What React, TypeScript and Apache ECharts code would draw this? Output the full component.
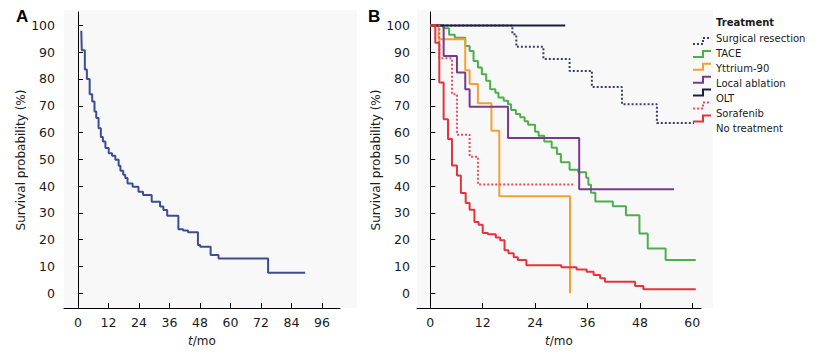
import React, { useEffect, useRef } from 'react';
import * as echarts from 'echarts';

const FONT = 'DejaVu Sans';
const TEXT = '#1a1a1a';

// tick labels
const yTicks = [0, 10, 20, 30, 40, 50, 60, 70, 80, 90, 100];
const xTicksA = [0, 12, 24, 36, 48, 60, 72, 84, 96];
const xTicksB = [0, 12, 24, 36, 48, 60];

// Panel A: overall survival [month, survival %]
const overall = [
  [1.3, 98], [1.5, 90.7], [2.7, 83.5], [3.5, 80], [4.6, 74.3], [5.6, 71.6], [6.5, 67.9],
  [7.2, 65.4], [8.1, 61.6], [9.0, 58.3], [9.8, 56.7], [10.8, 54.2], [12.1, 52.3],
  [13.4, 51.3], [14.7, 49.8], [16.0, 47.6], [16.7, 45.7], [17.8, 44.2], [18.6, 43],
  [19.5, 41], [21.5, 39.8], [23.8, 37.9], [25.6, 36.7], [29.0, 34.2], [32.3, 32.4],
  [33.6, 31.1], [35.1, 28.9], [39.5, 23.9], [41.4, 23.4], [43.3, 22.8], [47.2, 18],
  [48.1, 17.4], [52.2, 14.3], [55.3, 13], [74.8, 7.7], [89.4, 7.7],
];

// Panel B: survival by treatment [month, survival %]
const surgicalResection = [
  [0, 100], [18.8, 96.7], [19.7, 92], [25.9, 87.5], [31.9, 83], [37.0, 77], [43.9, 70.6],
  [51.9, 63.6], [60.4, 63.6],
];
const tace = [
  [0, 100], [3.0, 98.9], [4.3, 96.5], [5.6, 95.4], [8.0, 92.3], [9.0, 90.4], [9.9, 86.7],
  [10.9, 84.3], [11.8, 81.8], [12.8, 79.3], [13.7, 76.2], [14.9, 74.9], [15.6, 73.1],
  [16.8, 71.9], [17.8, 70.6], [18.5, 68.4], [19.6, 66.9], [20.6, 65.7], [21.6, 64.2],
  [22.4, 62.9], [24.0, 60.3], [24.8, 58.8], [26.1, 56.7], [27.8, 54.3], [29.0, 52],
  [29.9, 48.9], [31.9, 46.1], [33.9, 45.2], [35.7, 43.1], [36.2, 40.5], [36.8, 37.5],
  [37.8, 34.3], [41.8, 32.5], [44.8, 29.1], [47.9, 22.3], [49.8, 16.7], [53.9, 12.4],
  [60.8, 12.4],
];
const yttrium90 = [
  [0, 100], [1.9, 94.8], [8.0, 83.3], [9.0, 78.1], [10.9, 70.9], [14.0, 60.7], [15.8, 36.2],
  [32.0, 0],
];
const localAblation = [
  [0, 100], [3.05, 88.6], [6.1, 82.4], [8.0, 76.2], [9.0, 69.6], [17.8, 58], [34.1, 38.8],
  [55.8, 38.8],
];
const olt = [[0, 100], [30.9, 100]];
const sorafenib = [
  [0, 100], [2.06, 87.7], [4.96, 74.3], [6.1, 59.2], [9.0, 51], [10.9, 40.6], [32.7, 40.6],
];
const noTreatment = [
  [0, 100], [1.14, 93.5], [2.06, 78.7], [3.05, 65], [4.05, 57.6], [4.96, 47.7], [6.1, 44],
  [7.0, 37.4], [8.1, 33.7], [9.0, 31.2], [10.1, 26.6], [11.05, 25.6], [12.0, 22.5],
  [13.2, 22], [15.0, 20.8], [16.0, 19.8], [17.0, 16.1], [17.9, 14.9], [19.1, 13.4],
  [20.05, 12.4], [22.0, 10.5], [30.0, 9.7], [33.5, 8.9], [35.8, 8.0], [37.4, 6.8],
  [38.9, 5.6], [40.0, 4.3], [46.9, 2.7], [48.8, 1.5], [60.8, 1.5],
];

const treatments = ['Surgical resection', 'TACE', 'Yttrium-90', 'Local ablation', 'OLT', 'Sorafenib', 'No treatment'];
const treatmentData = [surgicalResection, tace, yttrium90, localAblation, olt, sorafenib, noTreatment];
const treatmentColors = ['#3b3e66', '#4caf4c', '#f3a032', '#7a3a8c', '#1d1e3a', '#e85058', '#e3343d'];
const treatmentDotted = [true, false, false, false, false, true, false];

const yAxisCfg = (gridIndex: number, nameGap: number, margin: number) => ({
  type: 'value',
  gridIndex,
  min: -5.5,
  max: 105,
  name: 'Survival probability (%)',
  nameLocation: 'middle',
  nameGap,
  nameTextStyle: { fontFamily: FONT, fontSize: 12, color: TEXT },
  axisLine: { show: true, lineStyle: { color: '#000', width: 1 } },
  axisTick: { show: true, inside: true, length: 5, customValues: yTicks, lineStyle: { color: '#000' } },
  axisLabel: { customValues: yTicks, margin, fontFamily: FONT, fontSize: 12.5, color: TEXT },
  splitLine: { show: false },
});

const xAxisCfg = (gridIndex: number, min: number, max: number, ticks: number[]) => ({
  type: 'value',
  gridIndex,
  min,
  max,
  name: '{i|t}/mo',
  nameLocation: 'middle',
  nameGap: 27,
  nameTextStyle: {
    fontFamily: FONT, fontSize: 12, color: TEXT,
    rich: { i: { fontStyle: 'italic', fontFamily: FONT, fontSize: 12, color: TEXT } },
  },
  axisLine: { show: true, onZero: false, lineStyle: { color: '#000', width: 1 } },
  axisTick: { show: true, inside: true, length: 5, customValues: ticks, lineStyle: { color: '#000' } },
  axisLabel: { customValues: ticks, margin: 8, fontFamily: FONT, fontSize: 12.5, color: TEXT },
  splitLine: { show: false },
});

const legendGraphics: any[] = [
  {
    type: 'text', x: 716, y: 22.5, z: 10,
    style: { text: 'Treatment', fontFamily: FONT, fontSize: 10, fontWeight: 'bold', fill: TEXT, verticalAlign: 'middle' },
  },
];
treatments.forEach((name, i) => {
  const sy = 41 + 12.9 * i;
  const ty = 38.5 + 15 * i;
  legendGraphics.push({
    type: 'polyline', z: 10,
    shape: { points: [[693, sy + 3], [703, sy + 3], [703, sy - 3], [711, sy - 3]] },
    style: { stroke: treatmentColors[i], lineWidth: 2, fill: null, lineDash: treatmentDotted[i] ? [2, 2] : null },
  });
  legendGraphics.push({
    type: 'text', x: 716, y: ty, z: 10,
    style: { text: name, fontFamily: FONT, fontSize: 10, fill: TEXT, verticalAlign: 'middle' },
  });
});

const option: any = {
  animation: false,
  backgroundColor: '#fff',
  grid: [
    { left: 64, top: 12, width: 276, height: 296, outerBoundsMode: 'none', containLabel: false },
    { left: 417, top: 12, width: 284, height: 296, outerBoundsMode: 'none', containLabel: false },
  ],
  xAxis: [xAxisCfg(0, -5.5, 103.1, xTicksA), xAxisCfg(1, -3.05, 62, xTicksB)],
  yAxis: [yAxisCfg(0, 34, 9), yAxisCfg(1, 35, 7)],
  graphic: [
    { type: 'rect', z: -10, shape: { x: 64, y: 10, width: 293, height: 298 }, style: { fill: '#f8f8f8' } },
    { type: 'rect', z: -10, shape: { x: 417, y: 10, width: 296, height: 298 }, style: { fill: '#f8f8f8' } },
    {
      type: 'text', x: 16, y: 16, z: 10,
      style: { text: 'A', fontFamily: 'Liberation Sans', fontSize: 17, fontWeight: 'bold', fill: '#000', verticalAlign: 'middle' },
    },
    {
      type: 'text', x: 368, y: 16, z: 10,
      style: { text: 'B', fontFamily: 'Liberation Sans', fontSize: 17, fontWeight: 'bold', fill: '#000', verticalAlign: 'middle' },
    },
    ...legendGraphics,
  ],
  series: [
    {
      type: 'line', name: 'Overall', xAxisIndex: 0, yAxisIndex: 0, step: 'end',
      showSymbol: false, symbol: 'none', data: overall,
      lineStyle: { color: '#3a4d98', width: 2 },
    },
    ...treatments.map((name, i) => ({
      type: 'line', name, xAxisIndex: 1, yAxisIndex: 1, step: 'end',
      showSymbol: false, symbol: 'none', data: treatmentData[i],
      lineStyle: { color: treatmentColors[i], width: 2, type: treatmentDotted[i] ? [2, 2] : 'solid' },
    })),
  ],
};

export default function App() {
  const ref = useRef<HTMLDivElement>(null);
  useEffect(() => {
    const chart = echarts.init(ref.current!, null, { renderer: 'svg' });
    chart.setOption(option);
    return () => chart.dispose();
  }, []);
  return (
    <div
      ref={ref}
      style={{ position: 'absolute', left: 0, top: 0, width: 820, height: 362, background: '#fff' }}
    />
  );
}
